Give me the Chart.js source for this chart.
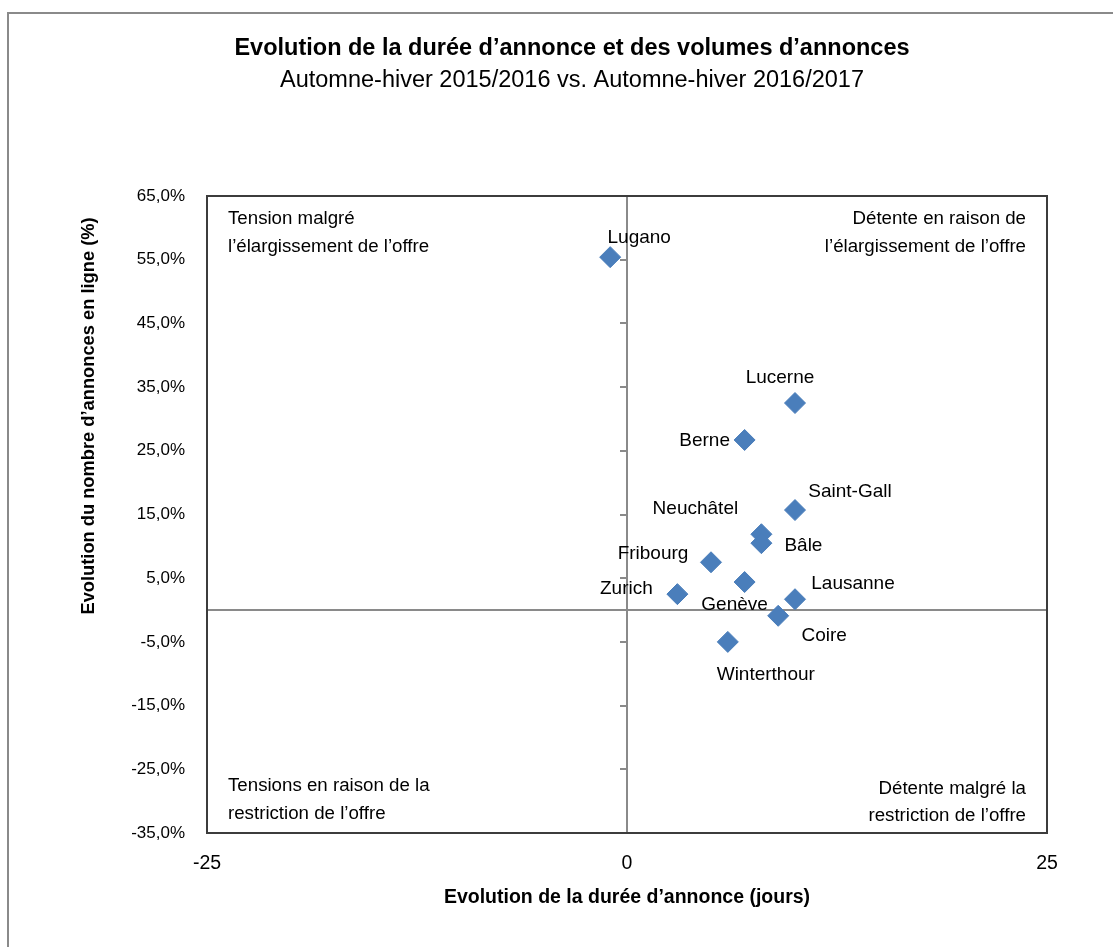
<!DOCTYPE html>
<html>
<head>
<meta charset="utf-8">
<script src="https://cdn.jsdelivr.net/npm/chart.js@4"></script>
<style>
  html, body { margin: 0; padding: 0; background: #ffffff; }
  #wrap { width: 1113px; height: 947px; }
</style>
</head>
<body>
<div id="wrap"><canvas id="c" width="1113" height="947"></canvas></div>
<script>
// ---- Data ----
const categories = ['Lugano', 'Lucerne', 'Berne', 'Saint-Gall', 'Neuchâtel', 'Bâle',
                    'Fribourg', 'Zurich', 'Genève', 'Lausanne', 'Coire', 'Winterthour'];
const durationChange = [-1.0, 10.0, 7.0, 10.0, 8.0, 8.0, 5.0, 3.0, 7.0, 10.0, 9.0, 6.0];   // jours
const listingsChange = [55.4, 32.5, 26.7, 15.7, 11.9, 10.5, 7.5, 2.5, 4.4, 1.7, -0.9, -5.0]; // %
const xTickValues = [-25, 0, 25];
const yTickValues = [-35, -25, -15, -5, 5, 15, 25, 35, 45, 55, 65];
const yTickLabels = ['-35,0%', '-25,0%', '-15,0%', '-5,0%', '5,0%', '15,0%', '25,0%', '35,0%', '45,0%', '55,0%', '65,0%'];

const titleText = 'Evolution de la durée d’annonce et des volumes d’annonces';
const subtitleText = 'Automne-hiver 2015/2016 vs. Automne-hiver 2016/2017';
const xTitle = 'Evolution de la durée d’annonce (jours)';
const yTitle = 'Evolution du nombre d’annonces en ligne (%)';
const quadrantTL = ['Tension malgré', 'l’élargissement de l’offre'];
const quadrantTR = ['Détente en raison de', 'l’élargissement de l’offre'];
const quadrantBL = ['Tensions en raison de la', 'restriction de l’offre'];
const quadrantBR = ['Détente malgré la', 'restriction de l’offre'];

// ---- Label placement (style, offsets of label centre from marker, px) ----
const labelPlacement = [
  [29, -20], [-15, -26], [-40, 0], [55, -19], [-66, -26], [42, 2],
  [-58, -10], [-51, -6], [-10, 22], [58, -16], [46, 19], [38, 32]
];

const FONT = '"Liberation Sans", Arial, Helvetica, sans-serif';
const points = durationChange.map((x, i) => ({ x: x, y: listingsChange[i] }));

const decorPlugin = {
  id: 'decor',
  beforeDraw(chart) {
    const ctx = chart.ctx;
    ctx.save();
    ctx.fillStyle = '#ffffff';
    ctx.fillRect(0, 0, chart.width, chart.height);
    ctx.strokeStyle = '#8a8a8a';
    ctx.lineWidth = 2;
    ctx.strokeRect(8, 13, chart.width + 20, chart.height + 20);
    ctx.restore();
  },
  beforeDatasetsDraw(chart) {
    const ctx = chart.ctx;
    const a = chart.chartArea;
    const xs = chart.scales.x, ys = chart.scales.y;
    const x0 = Math.round(xs.getPixelForValue(0));
    const y0 = Math.round(ys.getPixelForValue(0));
    ctx.save();
    ctx.strokeStyle = '#8a8a8a';
    ctx.lineWidth = 2;
    ctx.beginPath();
    ctx.moveTo(x0, a.top); ctx.lineTo(x0, a.bottom);
    ctx.moveTo(a.left, y0); ctx.lineTo(a.right, y0);
    ys.ticks.forEach(t => {
      const py = Math.round(ys.getPixelForValue(t.value));
      ctx.moveTo(x0 - 7, py); ctx.lineTo(x0, py);
    });
    ctx.stroke();
    ctx.strokeStyle = '#3c3c3c';
    ctx.lineWidth = 2;
    ctx.strokeRect(a.left, a.top, a.right - a.left, a.bottom - a.top);
    ctx.restore();
  },
  afterDatasetsDraw(chart) {
    const ctx = chart.ctx;
    const a = chart.chartArea;
    ctx.save();
    ctx.fillStyle = '#000000';
    // point labels
    ctx.font = '19px ' + FONT;
    ctx.textAlign = 'center';
    ctx.textBaseline = 'middle';
    const meta = chart.getDatasetMeta(0);
    meta.data.forEach((el, i) => {
      const off = labelPlacement[i];
      ctx.fillText(categories[i], el.x + off[0], el.y + off[1] + 1);
    });
    // quadrant notes
    ctx.font = '18.7px ' + FONT;
    ctx.textAlign = 'left';
    ctx.fillText(quadrantTL[0], a.left + 21, a.top + 23);
    ctx.fillText(quadrantTL[1], a.left + 21, a.top + 51);
    ctx.fillText(quadrantBL[0], a.left + 21, a.bottom - 47);
    ctx.fillText(quadrantBL[1], a.left + 21, a.bottom - 19);
    ctx.textAlign = 'right';
    ctx.fillText(quadrantTR[0], a.right - 21, a.top + 23);
    ctx.fillText(quadrantTR[1], a.right - 21, a.top + 51);
    ctx.fillText(quadrantBR[0], a.right - 21, a.bottom - 44);
    ctx.fillText(quadrantBR[1], a.right - 21, a.bottom - 17);
    // titles
    ctx.textAlign = 'center';
    ctx.font = 'bold 23.5px ' + FONT;
    ctx.fillText(titleText, 572, 49);
    ctx.font = '23.5px ' + FONT;
    ctx.fillText(subtitleText, 572, 81);
    // y axis title
    ctx.translate(89, 416);
    ctx.rotate(-Math.PI / 2);
    ctx.font = 'bold 18.3px ' + FONT;
    ctx.fillText(yTitle, 0, 0);
    ctx.restore();
  }
};

new Chart(document.getElementById('c'), {
  type: 'scatter',
  data: {
    datasets: [{
      label: 'Villes',
      data: points,
      pointStyle: 'rectRot',
      pointRadius: 10.5,
      pointHoverRadius: 10.5,
      backgroundColor: '#4a7ebb',
      borderColor: '#4a7ebb',
      borderWidth: 1
    }]
  },
  options: {
    responsive: false,
    animation: false,
    devicePixelRatio: 1,
    layout: { padding: { left: 20, top: 196, right: 66, bottom: 35 } },
    plugins: {
      legend: { display: false },
      tooltip: { enabled: false },
      title: { display: false }
    },
    scales: {
      x: {
        type: 'linear',
        min: -25, max: 25,
        afterBuildTicks: s => { s.ticks = xTickValues.map(v => ({ value: v })); },
        afterFit: s => { s.height = 79; },
        grid: { display: false, drawTicks: false },
        border: { display: false },
        ticks: {
          padding: 19,
          color: '#000000',
          font: { family: FONT, size: 19.5 },
          callback: v => String(v)
        },
        title: {
          display: true,
          text: xTitle,
          color: '#000000',
          font: { family: FONT, size: 19.5, weight: 'bold' },
          padding: { top: 4, bottom: 3 }
        }
      },
      y: {
        type: 'linear',
        min: -35, max: 65,
        afterBuildTicks: s => { s.ticks = yTickValues.map(v => ({ value: v })); },
        afterFit: s => { s.width = 187; },
        grid: { display: false, drawTicks: false },
        border: { display: false },
        ticks: {
          padding: 22,
          color: '#000000',
          font: { family: FONT, size: 17 },
          callback: (v) => yTickLabels[yTickValues.indexOf(v)]
        }
      }
    }
  },
  plugins: [decorPlugin]
});
</script>
</body>
</html>
